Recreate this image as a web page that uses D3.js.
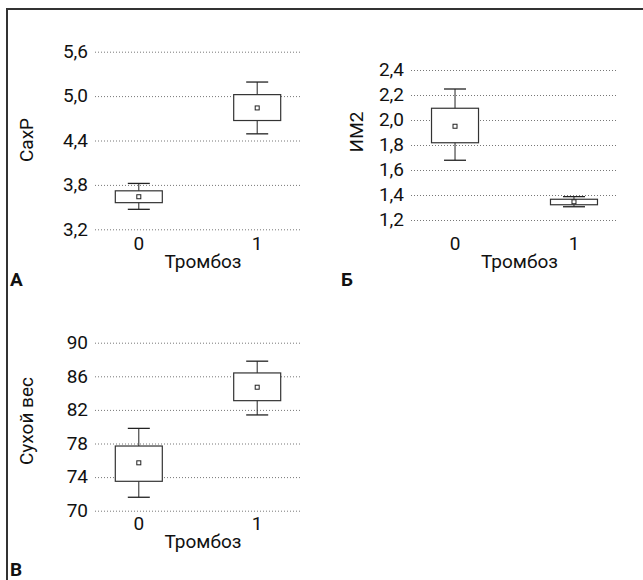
<!DOCTYPE html>
<html>
<head>
<meta charset="utf-8">
<script src="https://cdn.jsdelivr.net/npm/d3@7"></script>
<style>
  body { margin: 0; background: #fff; }
  text { font-family: Roboto, "Liberation Sans", sans-serif; fill: #111; }
</style>
</head>
<body>
<script>
// categories on the x axis (Тромбоз)
let categories = ['0', '1'];

// panel A: СахР
let sahrTicks = [3.2, 3.8, 4.4, 5.0, 5.6];
let sahrStats = [
  { cat: '0', lo: 3.47, q1: 3.56, mean: 3.64, q3: 3.72, hi: 3.82 },
  { cat: '1', lo: 4.49, q1: 4.67, mean: 4.84, q3: 5.02, hi: 5.19 }
];

// panel Б: ИМ2
let im2Ticks = [1.2, 1.4, 1.6, 1.8, 2.0, 2.2, 2.4];
let im2Stats = [
  { cat: '0', lo: 1.678, q1: 1.818, mean: 1.95, q3: 2.094, hi: 2.248 },
  { cat: '1', lo: 1.306, q1: 1.322, mean: 1.346, q3: 1.366, hi: 1.387 }
];

// panel В: Сухой вес
let vesTicks = [70, 74, 78, 82, 86, 90];
let vesStats = [
  { cat: '0', lo: 71.6, q1: 73.5, mean: 75.7, q3: 77.7, hi: 79.8 },
  { cat: '1', lo: 81.4, q1: 83.1, mean: 84.7, q3: 86.4, hi: 87.8 }
];

let width = 643, height = 580;

let svg = d3.select('body')
  .append('svg')
  .attr('width', width)
  .attr('height', height);

// frame (top and left edges only)
svg.append('path')
  .attr('d', 'M7,580 V9 H643')
  .attr('fill', 'none')
  .attr('stroke', '#333')
  .attr('stroke-width', 2);

let ru = d3.formatLocale({ decimal: ',', thousands: ' ', grouping: [3], currency: ['', ''] });

function drawPanel(p) {
  let g = svg.append('g');

  let x = d3.scalePoint()
    .domain(categories)
    .range([p.left, p.right])
    .padding(0.37);

  let y = d3.scaleLinear()
    .domain(d3.extent(p.ticks))
    .range([p.bottom, p.top]);

  // y axis with dotted grid
  let yAxis = g.append('g')
    .attr('transform', `translate(${p.left},0)`)
    .call(d3.axisLeft(y)
      .tickValues(p.ticks)
      .tickFormat(p.fmt)
      .tickSize(-(p.right - p.left))
      .tickPadding(7));
  yAxis.select('.domain').remove();
  yAxis.selectAll('line')
    .attr('stroke', '#777')
    .attr('stroke-dasharray', '1,2');
  yAxis.selectAll('text')
    .attr('dy', '0.3em')
    .style('font-size', '19px')
    .attr('fill', '#111');

  // x tick labels
  g.selectAll('.xlab')
    .data(categories)
    .enter()
    .append('text')
    .attr('x', d => x(d))
    .attr('y', p.xLabY)
    .attr('text-anchor', 'middle')
    .style('font-size', '19px')
    .text(d => d);

  // x title
  g.append('text')
    .attr('x', (p.left + p.right) / 2 + 5)
    .attr('y', p.xLabY + 18)
    .attr('text-anchor', 'middle')
    .style('font-size', '19px')
    .text('Тромбоз');

  // y title
  g.append('text')
    .attr('transform', `translate(${p.yTitleX},${p.yTitleY}) rotate(-90)`)
    .attr('text-anchor', 'middle')
    .style('font-size', '19px')
    .text(p.yTitle);

  // panel letter
  g.append('text')
    .attr('x', p.letterX)
    .attr('y', p.letterY)
    .style('font-size', '19px')
    .style('font-weight', 'bold')
    .text(p.letter);

  let boxW = 47, capW = 22;
  let boxes = g.selectAll('.box')
    .data(p.stats)
    .enter()
    .append('g');

  // whiskers
  boxes.append('line')
    .attr('x1', d => x(d.cat)).attr('x2', d => x(d.cat))
    .attr('y1', d => y(d.lo)).attr('y2', d => y(d.hi))
    .attr('stroke', '#222');
  boxes.append('line')
    .attr('x1', d => x(d.cat) - capW / 2).attr('x2', d => x(d.cat) + capW / 2)
    .attr('y1', d => y(d.hi)).attr('y2', d => y(d.hi))
    .attr('stroke', '#222').attr('stroke-width', 1.3);
  boxes.append('line')
    .attr('x1', d => x(d.cat) - capW / 2).attr('x2', d => x(d.cat) + capW / 2)
    .attr('y1', d => y(d.lo)).attr('y2', d => y(d.lo))
    .attr('stroke', '#222').attr('stroke-width', 1.3);

  // box
  boxes.append('rect')
    .attr('x', d => x(d.cat) - boxW / 2)
    .attr('y', d => y(d.q3))
    .attr('width', boxW)
    .attr('height', d => y(d.q1) - y(d.q3))
    .attr('fill', 'white')
    .attr('stroke', '#333')
    .attr('stroke-width', 1.2);

  // mean marker
  boxes.append('rect')
    .attr('x', d => x(d.cat) - 2)
    .attr('y', d => y(d.mean) - 2)
    .attr('width', 4)
    .attr('height', 4)
    .attr('fill', 'white')
    .attr('stroke', '#222')
    .attr('stroke-width', 1);
}

let f1 = ru.format('.1f');

drawPanel({ stats: sahrStats, ticks: sahrTicks, fmt: f1, left: 95, right: 301, top: 51.7, bottom: 229.3,
  xLabY: 250, yTitle: 'СахР', yTitleX: 33, yTitleY: 140, letter: 'А', letterX: 10, letterY: 286 });

drawPanel({ stats: im2Stats, ticks: im2Ticks, fmt: f1, left: 411, right: 618, top: 70, bottom: 220,
  xLabY: 250, yTitle: 'ИМ2', yTitleX: 363, yTitleY: 132, letter: 'Б', letterX: 341, letterY: 286 });

drawPanel({ stats: vesStats, ticks: vesTicks, fmt: d3.format('d'), left: 95, right: 301, top: 342.7, bottom: 510.7,
  xLabY: 530, yTitle: 'Сухой вес', yTitleX: 33, yTitleY: 421, letter: 'В', letterX: 10, letterY: 576 });
</script>
</body>
</html>
